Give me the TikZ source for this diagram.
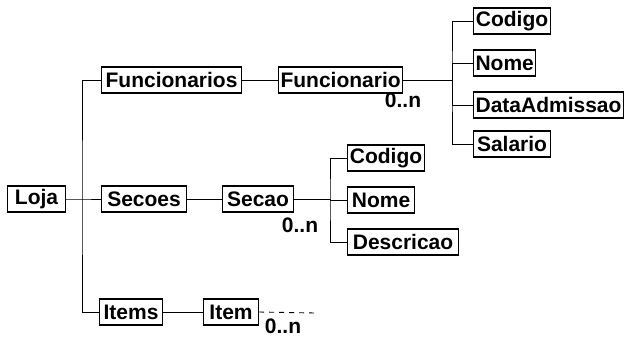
\documentclass[tikz,border=0pt]{standalone}
\usepackage{fontspec}
\setmainfont{Liberation Sans}
\usetikzlibrary{positioning}

\begin{document}
\begin{tikzpicture}[
    x=1pt, y=-1pt,
    field/.style={rectangle, draw=black, line width=1.1pt, fill=white,
                  minimum height=26pt, inner xsep=2pt, inner ysep=0pt,
                  anchor=west, align=center,
                  font=\fontsize{21}{22}\selectfont\bfseries},
    card/.style={font=\fontsize{21}{22}\selectfont\bfseries, inner sep=0pt},
    link/.style={draw=black, line width=0.9pt},
]
    \useasboundingbox (0,0) rectangle (624,338);

    % Root and collections
    \node[field, minimum width=58pt] (loja) at (7,199) {Loja};
    \node[field, minimum width=140pt] (funcs) at (101,80) {Funcionarios};
    \node[field, minimum width=85pt] (secoes) at (101,199) {Secoes};
    \node[field, minimum width=63pt] (items) at (99,312) {Items};

    % Elements
    \node[field, minimum width=124pt] (func) at (278,80) {Funcionario};
    \node[field, minimum width=71pt] (secao) at (222,199) {Secao};
    \node[field, minimum width=55pt] (item) at (203,312) {Item};

    % Funcionario fields
    \node[field, minimum width=77pt] (fcod) at (473,21) {Codigo};
    \node[field, minimum width=62pt] (fnome) at (473,63) {Nome};
    \node[field, minimum width=150pt] (fdata) at (473,105) {DataAdmissao};
    \node[field, minimum width=77pt] (fsal) at (473,144) {Salario};

    % Secao fields
    \node[field, minimum width=77pt] (scod) at (347,158) {Codigo};
    \node[field, minimum width=67pt] (snome) at (347,200) {Nome};
    \node[field, minimum width=111pt] (sdesc) at (347,242) {Descricao};

    % Cardinalities
    \node[card] (nfunc) at (403,100) {0..n};
    \node[card] (nsecao) at (300,225) {0..n};
    \node[card] (nitem) at (283,326) {0..n};

    % Junction points
    \coordinate (jl) at (82,199);
    \coordinate (jf) at (452,80);
    \coordinate (js) at (330,199);
    \coordinate (iend) at (315,313);

    % Connectors
    \draw[link] (loja) -- (jl) -- (secoes);
    \draw[link] (funcs.west) -| (jl) |- (items.west);
    \draw[link] (funcs) -- (func);
    \draw[link] (secoes) -- (secao);
    \draw[link] (items) -- (item);

    \draw[link] (func) -- (jf);
    \draw[link] (fcod.west) -| (jf) |- (fsal.west);
    \draw[link] (jf) |- (fnome.west);
    \draw[link] (jf) |- (fdata.west);

    \draw[link] (secao) -- (js);
    \draw[link] (scod.west) -| (js) |- (sdesc.west);
    \draw[link] (js) |- (snome.west);

    \draw[link, dash pattern=on 5pt off 5pt] (item.east) -- (iend);
\end{tikzpicture}
\end{document}
